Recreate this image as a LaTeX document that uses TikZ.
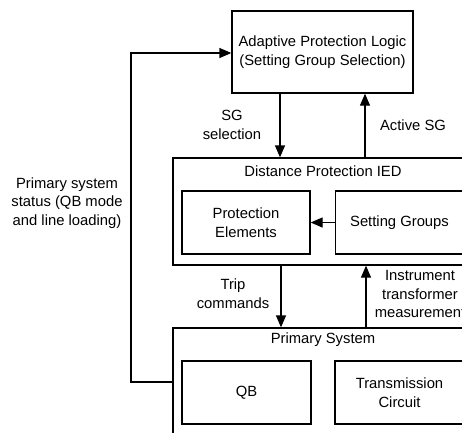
\documentclass[tikz,border=0pt]{standalone}
\usepackage{fontspec}
\setmainfont{Liberation Sans}
\usetikzlibrary{arrows.meta}
\tikzset{
  box/.style={draw, line width=1.3pt, inner sep=0pt, align=center},
  lbl/.style={inner sep=0pt, align=center},
  arr/.style={line width=1.3pt, -{Triangle[length=12pt,width=10pt]}},
  conn/.style={line width=1.3pt}
}
\begin{document}
\begin{tikzpicture}[x=1pt,y=-1pt,font=\fontsize{14.8}{18.8}\selectfont]
\useasboundingbox (0,0) rectangle (462,432);
\clip (0,0) rectangle (462,432);
% boxes
\node[box, minimum width=181pt, minimum height=82pt] (adapt) at (322.5,52) {Adaptive Protection Logic\\(Setting Group Selection)};
\node[box, minimum width=327pt, minimum height=107pt] (ied) at (336.5,211.5) {};
\node[lbl] (iedt) at (323,171) {Distance Protection IED};
\node[box, minimum width=128pt, minimum height=63pt] (pe) at (246,222.5) {Protection\\Elements};
\node[box, minimum width=128pt, minimum height=63pt] (sg) at (399.5,222.5) {Setting Groups};
\node[box, minimum width=327pt, minimum height=140pt] (prim) at (336.5,398) {};
\node[lbl] (primt) at (323,340) {Primary System};
\node[box, minimum width=129pt, minimum height=63pt] (qb) at (246.5,392.5) {QB};
\node[box, minimum width=129pt, minimum height=63pt] (tc) at (399.5,392.5) {Transmission\\Circuit};
% column coordinates
\coordinate (c1) at (280,0);
\coordinate (c2) at (365,0);
\coordinate (c3) at (281,0);
\coordinate (c4) at (366,0);
\coordinate (fbb) at (131,382);
\coordinate (fbt) at (131,53);
% connectors
\draw[arr] (adapt.south -| c1) -- (ied.north -| c1);
\draw[arr] (ied.north -| c2) -- (adapt.south -| c2);
\draw[arr] (sg.west) -- (pe.east);
\draw[arr] (ied.south -| c3) -- (prim.north -| c3);
\draw[arr] (prim.north -| c4) -- (ied.south -| c4);
\draw[arr] (prim.west |- fbb) -- (fbb) -- (fbt) -- (adapt.west |- fbt);
% labels
\node[lbl] (l1) at (232,125) {SG\\selection};
\node[lbl] (l2) at (413,125) {Active SG};
\node[lbl] (l3) at (233,294) {Trip\\commands};
\node[lbl] (l4) at (420,294) {Instrument\\transformer\\measurement};
\node[lbl] (l5) at (67,203) {Primary system\\status (QB mode\\and line loading)};
\end{tikzpicture}
\end{document}
